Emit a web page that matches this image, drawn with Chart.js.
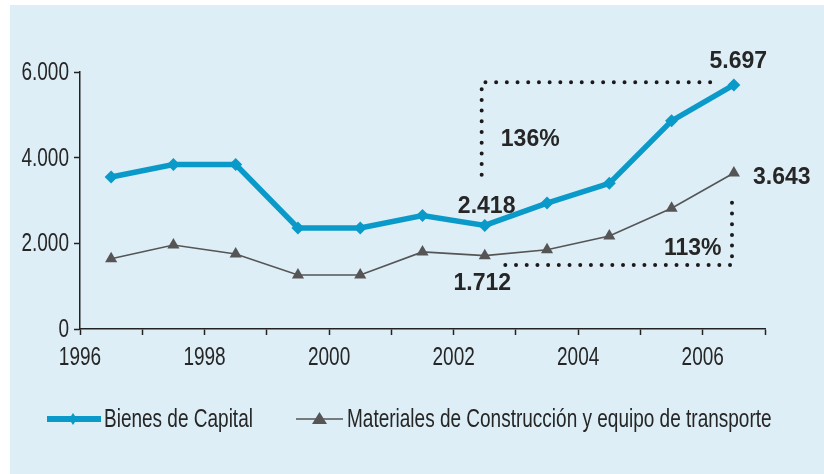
<!DOCTYPE html>
<html>
<head>
<meta charset="utf-8">
<script src="https://cdn.jsdelivr.net/npm/chart.js@4.4.0/dist/chart.umd.min.js"></script>
<style>
  html, body { margin: 0; padding: 0; background: #fff; }
  #wrap { position: absolute; left: 10px; top: 5px; width: 814px; height: 469px; background: #deeef6; }
  #c { position: absolute; left: -10px; top: -5px; }
</style>
</head>
<body>
<div id="wrap"><canvas id="c" width="824" height="474"></canvas></div>
<script>
const years = [1996, 1997, 1998, 1999, 2000, 2001, 2002, 2003, 2004, 2005, 2006];
const bienesCapital = [3550, 3840, 3840, 2360, 2360, 2650, 2418, 2940, 3400, 4860, 5697];
const materiales = [1640, 1960, 1750, 1260, 1260, 1800, 1712, 1850, 2170, 2820, 3643];
const yTicks = [0, 2000, 4000, 6000];
const xLabels = ["1996", "1998", "2000", "2002", "2004", "2006"];

const seriesNames = ["Bienes de Capital", "Materiales de Construcción y equipo de transporte"];
const BLUE = "#0a9ac9";
const GREY = "#555555";
const TXT = "#262626";
const BOLD = "bold 23px 'Liberation Sans', Arial, sans-serif";
const NARROW = "25px 'Liberation Sans', Arial, sans-serif";
const SQUEEZE = 0.76; // condensed look of the original face

// points sit in the middle of each year slot
const pts = vals => vals.map((v, i) => ({ x: years[i] + 0.5, y: v }));

const fmt = v => String(v).replace(/\B(?=(\d{3})+(?!\d))/g, ".");

// value labels and the dotted brackets, placed in data units
const labels = [
  { text: "5.697", x: 2006.57, y: 6250 },
  { text: "3.643", x: 2007.27, y: 3530 },
  { text: "136%", x: 2003.23, y: 4420 },
  { text: "2.418", x: 2002.53, y: 2850 },
  { text: "1.712", x: 2002.46, y: 1060 },
  { text: "113%", x: 2005.84, y: 1880 },
];
const brackets = [
  [[2002.45, 3600], [2002.45, 5760], [2006.17, 5760]],
  [[2002.83, 1494], [2006.47, 1494], [2006.47, 3105]],
];

function narrowText(ctx, text, x, y, align) {
  ctx.save();
  ctx.font = NARROW;
  ctx.textBaseline = "middle";
  ctx.textAlign = align;
  ctx.translate(x, y);
  ctx.scale(SQUEEZE, 1);
  ctx.fillText(text, 0, 0);
  ctx.restore();
}

const extras = {
  id: "extras",
  afterDatasetsDraw(chart) {
    const { ctx, scales: { x, y } } = chart;
    ctx.save();
    ctx.strokeStyle = "#1a1a1a";
    ctx.lineWidth = 4;
    ctx.lineCap = "round";
    ctx.setLineDash([0, 10.7]);
    for (const b of brackets) {
      ctx.beginPath();
      b.forEach((p, i) => {
        const px = x.getPixelForValue(p[0]), py = y.getPixelForValue(p[1]);
        i ? ctx.lineTo(px, py) : ctx.moveTo(px, py);
      });
      ctx.stroke();
    }
    ctx.setLineDash([]);
    ctx.fillStyle = TXT;
    ctx.font = BOLD;
    ctx.textAlign = "center";
    ctx.textBaseline = "middle";
    for (const l of labels) ctx.fillText(l.text, x.getPixelForValue(l.x), y.getPixelForValue(l.y));

    // tick labels
    for (const t of yTicks) narrowText(ctx, fmt(t), x.left - 11, y.getPixelForValue(t) + 1, "right");
    for (const t of xLabels) narrowText(ctx, t, x.getPixelForValue(+t), y.bottom + 29, "center");

    // legend
    const ly = 419;
    ctx.strokeStyle = BLUE; ctx.lineWidth = 6; ctx.lineCap = "butt";
    ctx.beginPath(); ctx.moveTo(47, ly); ctx.lineTo(101, ly); ctx.stroke();
    ctx.fillStyle = BLUE;
    ctx.beginPath(); ctx.moveTo(73, ly - 6); ctx.lineTo(77, ly); ctx.lineTo(73, ly + 6); ctx.lineTo(69, ly); ctx.closePath(); ctx.fill();
    ctx.strokeStyle = GREY; ctx.lineWidth = 1.6;
    ctx.beginPath(); ctx.moveTo(296, ly); ctx.lineTo(343, ly); ctx.stroke();
    ctx.fillStyle = GREY;
    ctx.beginPath(); ctx.moveTo(319.5, ly - 7); ctx.lineTo(327, ly + 5); ctx.lineTo(312, ly + 5); ctx.closePath(); ctx.fill();
    ctx.fillStyle = TXT;
    narrowText(ctx, seriesNames[0], 104, ly + 1, "left");
    narrowText(ctx, seriesNames[1], 347, ly + 1, "left");
    ctx.restore();
  }
};

new Chart(document.getElementById("c"), {
  type: "line",
  data: {
    datasets: [
      {
        label: seriesNames[0],
        data: pts(bienesCapital),
        borderColor: BLUE, backgroundColor: BLUE,
        borderWidth: 5.5, pointStyle: "rectRot", pointRadius: 6.5, pointBorderWidth: 0,
      },
      {
        label: seriesNames[1],
        data: pts(materiales),
        borderColor: GREY, backgroundColor: GREY,
        borderWidth: 1.6, pointStyle: "triangle", pointRadius: 7, pointBorderWidth: 0,
      },
    ],
  },
  options: {
    responsive: false,
    animation: false,
    layout: { padding: { top: 72, right: 59, left: 0, bottom: 0 } },
    plugins: { legend: { display: false }, tooltip: { enabled: false } },
    scales: {
      x: {
        type: "linear", min: years[0], max: years[years.length - 1] + 1,
        afterFit: s => { s.height = 145; },
        afterBuildTicks: s => { s.ticks = years.concat([years[years.length - 1] + 1]).map(v => ({ value: v })); },
        ticks: { display: false },
        grid: { drawOnChartArea: false, tickLength: 6, tickColor: "#222", tickWidth: 1.5 },
        border: { color: "#222", width: 1.5 },
      },
      y: {
        min: 0, max: 6000,
        afterFit: s => { s.width = 80; },
        afterBuildTicks: s => { s.ticks = yTicks.map(v => ({ value: v })); },
        ticks: { display: false },
        grid: { drawOnChartArea: false, tickLength: 6, tickColor: "#222", tickWidth: 1.5 },
        border: { color: "#222", width: 1.5 },
      },
    },
  },
  plugins: [extras],
});
</script>
</body>
</html>
